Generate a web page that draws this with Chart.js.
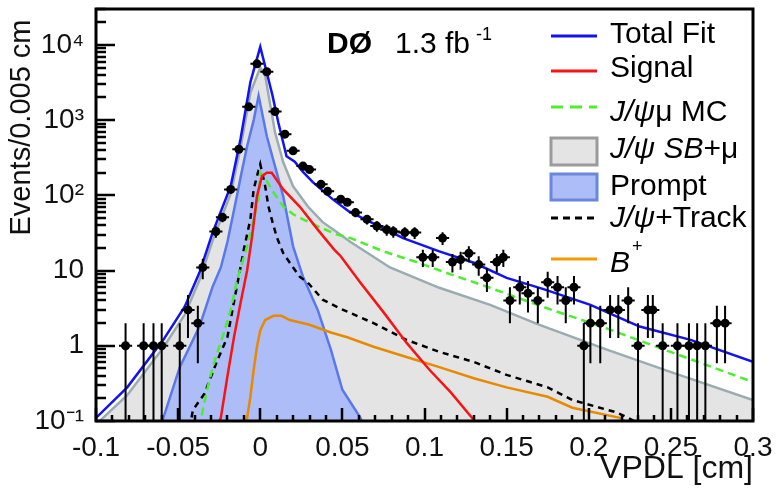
<!DOCTYPE html>
<html>
<head>
<meta charset="utf-8">
<script src="https://cdn.jsdelivr.net/npm/chart.js@4.4.0/dist/chart.umd.min.js"></script>
<style>
  html, body { margin: 0; padding: 0; background: #fff; }
  #wrap { width: 778px; height: 488px; }
</style>
</head>
<body>
<div id="wrap"><canvas id="myChart" width="778" height="488"></canvas></div>
<script>
// VPDL fit components (x in cm, y in events / 0.005 cm)
const fitX = [-0.1, -0.081, -0.059, -0.046, -0.037, -0.029, -0.018, -0.012, -0.006, 0, 0.005, 0.0075, 0.011, 0.016, 0.021, 0.026, 0.032, 0.044, 0.054, 0.087, 0.109, 0.130, 0.150, 0.172, 0.201, 0.231, 0.262, 0.3];
const fitY = [0.11, 0.28, 1.2, 3.3, 9.4, 32, 132, 560, 3200, 9400, 3500, 2100, 930, 330, 280, 205, 150, 89, 61, 27, 18, 12.7, 8, 5.7, 3.5, 1.8, 1.2, 0.61];

const sbX = [-0.1, -0.081, -0.059, -0.046, -0.037, -0.029, -0.018, -0.012, -0.006, 0, 0.003, 0.009, 0.014, 0.020, 0.029, 0.038, 0.047, 0.055, 0.079, 0.109, 0.140, 0.170, 0.211, 0.251, 0.3];
const sbY = [0.09, 0.22, 0.95, 2.6, 7.5, 25, 105, 430, 2300, 5000, 3900, 690, 275, 132, 71, 44, 32, 24, 11, 5.9, 3.5, 1.9, 0.89, 0.44, 0.19];

const promptX = [-0.065, -0.059, -0.049, -0.037, -0.029, -0.024, -0.020, -0.015, -0.011, -0.008, -0.004, -0.001, 0.004, 0.014, 0.020, 0.026, 0.035, 0.043, 0.050, 0.061, 0.066];
const promptY = [0.06, 0.11, 0.52, 1.8, 6.1, 11, 24, 81, 220, 450, 1000, 2100, 610, 97, 21, 8.3, 3.0, 0.89, 0.26, 0.11, 0.06];

const sigX = [-0.027, -0.024, -0.020, -0.016, -0.012, -0.008, -0.005, -0.002, 0.001, 0.004, 0.007, 0.014, 0.024, 0.035, 0.045, 0.049, 0.061, 0.075, 0.089, 0.103, 0.116, 0.129, 0.135];
const sigY = [0.08, 0.11, 0.39, 1.3, 3.7, 10, 28, 97, 180, 200, 200, 120, 71, 35, 19, 15.5, 6.9, 2.8, 1.1, 0.48, 0.24, 0.11, 0.07];

const mcX = [-0.037, -0.035, -0.031, -0.027, -0.023, -0.018, -0.014, -0.008, -0.004, -0.001, 0, 0.004, 0.008, 0.014, 0.020, 0.026, 0.037, 0.047, 0.055, 0.075, 0.095, 0.116, 0.138, 0.172, 0.211, 0.251, 0.3];
const mcY = [0.08, 0.14, 0.35, 0.71, 1.3, 3.0, 7.6, 21, 48, 89, 200, 155, 110, 71, 56, 48, 37, 30, 27, 18, 13, 8.9, 6.1, 3.3, 1.7, 0.81, 0.33];

const trackX = [-0.043, -0.041, -0.034, -0.026, -0.020, -0.015, -0.010, -0.006, -0.004, -0.002, 0, 0.003, 0.005, 0.007, 0.010, 0.014, 0.020, 0.024, 0.029, 0.038, 0.049, 0.069, 0.089, 0.109, 0.130, 0.150, 0.175, 0.190, 0.217, 0.232];
const trackY = [0.08, 0.14, 0.23, 0.65, 1.3, 5, 19, 48, 120, 180, 260, 132, 71, 48, 28, 17, 11, 8.3, 6.9, 4.1, 3.1, 2.0, 1.2, 0.83, 0.61, 0.41, 0.28, 0.19, 0.13, 0.09];

const bplusX = [-0.009, -0.008, -0.006, -0.004, -0.002, 0, 0.003, 0.008, 0.013, 0.018, 0.030, 0.043, 0.053, 0.069, 0.089, 0.109, 0.130, 0.150, 0.175, 0.190, 0.219, 0.225];
const bplusY = [0.08, 0.11, 0.21, 0.48, 0.97, 1.6, 2.2, 2.5, 2.5, 2.2, 1.9, 1.5, 1.3, 0.97, 0.71, 0.52, 0.37, 0.28, 0.21, 0.15, 0.11, 0.09];

// data points (events per bin)
const dataX = [-0.082, -0.071, -0.065, -0.060, -0.049, -0.044, -0.038, -0.035, -0.027, -0.023, -0.018, -0.013, -0.007, -0.002, 0.004, 0.009, 0.015, 0.020, 0.026, 0.030, 0.037, 0.041, 0.049, 0.053, 0.058, 0.065, 0.071, 0.077, 0.081, 0.088, 0.094, 0.099, 0.105, 0.111, 0.117, 0.122, 0.127, 0.133, 0.138, 0.144, 0.148, 0.152, 0.158, 0.163, 0.169, 0.175, 0.181, 0.186, 0.191, 0.197, 0.201, 0.207, 0.213, 0.218, 0.224, 0.230, 0.236, 0.239, 0.245, 0.254, 0.261, 0.266, 0.271, 0.278, 0.283];
const dataY = [1, 1, 1, 1, 1, 3, 2, 11, 33, 51, 120, 410, 1500, 5600, 4400, 1300, 650, 390, 245, 220, 140, 113, 89, 81, 59, 48, 39, 35, 33, 32, 32, 15, 15, 27, 13, 14, 17, 12, 8, 13, 15, 4, 6, 5, 4, 7, 6, 4, 6, 1, 2, 2, 3, 3, 4, 1, 3, 3, 1, 1, 1, 1, 1, 2, 2];

const yDecades = [0.1, 1, 10, 100, 1000, 10000];
const yDecadeLabels = ['10\u207B\u00B9', '1', '10', '10\u00B2', '10\u00B3', '10\u2074'];

const FONT = '"Liberation Sans", Arial, sans-serif';

function pts(xs, ys) {
  return xs.map((x, i) => ({ x: x, y: ys[i] }));
}

function curve(label, xs, ys, color, extra) {
  return Object.assign({
    label: label,
    data: pts(xs, ys),
    showLine: true,
    borderColor: color,
    borderWidth: 2.5,
    pointRadius: 0,
    fill: false,
    tension: 0
  }, extra);
}

const datasets = [
  curve('J/\u03C8 SB+\u03BC', sbX, sbY, '#9aacb2', { fill: 'start', backgroundColor: '#e4e4e4', order: 9 }),
  curve('Prompt', promptX, promptY, '#5a78ee', { fill: 'start', backgroundColor: '#adbdf7', order: 8 }),
  curve('B+', bplusX, bplusY, '#e88a00', { order: 6 }),
  curve('J/\u03C8+Track', trackX, trackY, '#000', { borderDash: [6, 5], order: 5 }),
  curve('J/\u03C8\u03BC MC', mcX, mcY, '#4cee2e', { borderDash: [8, 5], order: 4 }),
  curve('Signal', sigX, sigY, '#f81414', { order: 3 }),
  curve('Total Fit', fitX, fitY, '#1212f2', { order: 2 }),
  {
    label: 'Data',
    data: pts(dataX, dataY),
    showLine: false,
    pointRadius: 4.5,
    pointStyle: 'circle',
    backgroundColor: '#000',
    borderColor: '#000',
    borderWidth: 0,
    order: 1
  }
];

function drawRich(ctx, segs, x, y, size) {
  segs.forEach(s => {
    ctx.font = (s[1] || '') + ' ' + size + 'px ' + FONT;
    ctx.fillText(s[0], x, y);
    x += ctx.measureText(s[0]).width;
  });
  return x;
}

// inward ticks and the frame, placed through the chart's own scales
function drawTicks(chart) {
  const { ctx, chartArea: a } = chart;
  const x = chart.scales.x, y = chart.scales.y;
  ctx.save();
  ctx.setLineDash([]);
  ctx.strokeStyle = '#000';
  ctx.lineWidth = 2.5;
  for (let i = -10; i <= 30; i++) {
    const px = Math.round(x.getPixelForValue(i / 100));
    const len = (Math.abs(i) % 5 === 0) ? 13 : 6;
    ctx.beginPath();
    ctx.moveTo(px, a.bottom);
    ctx.lineTo(px, a.bottom - len);
    ctx.stroke();
  }
  for (let e = -1; e <= 4; e++) {
    for (let m = 1; m <= 9; m++) {
      const v = m * Math.pow(10, e);
      if (v > y.max) break;
      const py = Math.round(y.getPixelForValue(v));
      const len = m === 1 ? 19 : 10;
      ctx.beginPath();
      ctx.moveTo(a.left, py);
      ctx.lineTo(a.left + len, py);
      ctx.stroke();
    }
  }
  ctx.lineWidth = 3;
  ctx.strokeRect(a.left, a.top, a.right - a.left, a.bottom - a.top);
  ctx.restore();
}

const decorations = {
  id: 'decorations',
  afterDatasetsDraw(chart) {
    const { ctx, chartArea: a, scales: { x, y } } = chart;
    ctx.save();
    ctx.strokeStyle = '#000';
    ctx.lineWidth = 2;
    // error bars on data points
    dataX.forEach((xv, i) => {
      const v = dataY[i];
      const e = Math.sqrt(v);
      const px = x.getPixelForValue(xv);
      const py = y.getPixelForValue(v);
      const top = Math.max(a.top, y.getPixelForValue(v + e));
      const bot = v - e > 0 ? Math.min(a.bottom, y.getPixelForValue(v - e)) : a.bottom;
      ctx.beginPath();
      ctx.moveTo(px, top); ctx.lineTo(px, bot);
      ctx.moveTo(x.getPixelForValue(xv - 0.004), py); ctx.lineTo(x.getPixelForValue(xv + 0.004), py);
      ctx.stroke();
    });
    ctx.restore();
  },
  afterDraw(chart) {
    drawTicks(chart);
    const ctx = chart.ctx;
    ctx.save();
    ctx.fillStyle = '#000';
    ctx.textBaseline = 'alphabetic';

    // experiment tag
    ctx.font = 'bold 30px ' + FONT;
    ctx.fillText('D\u00D8', 327, 53);
    ctx.font = '30px ' + FONT;
    ctx.fillText('1.3 fb', 395, 53);
    ctx.font = '18px ' + FONT;
    ctx.fillText('-1', 476, 40);

    // legend
    const lx0 = 551, lx1 = 597, tx = 610;
    function lineSample(yy, color, dash) {
      ctx.save();
      ctx.strokeStyle = color;
      ctx.lineWidth = 3;
      ctx.setLineDash(dash || []);
      ctx.beginPath(); ctx.moveTo(lx0, yy); ctx.lineTo(lx1, yy); ctx.stroke();
      ctx.restore();
    }
    function boxSample(y0, y1, fill, stroke) {
      ctx.save();
      ctx.fillStyle = fill; ctx.strokeStyle = stroke; ctx.lineWidth = 3;
      ctx.fillRect(lx0, y0, lx1 - lx0, y1 - y0);
      ctx.strokeRect(lx0, y0, lx1 - lx0, y1 - y0);
      ctx.restore();
    }
    lineSample(36, '#1212f2');
    drawRich(ctx, [['Total Fit']], tx, 43, 30);
    lineSample(71, '#f81414');
    drawRich(ctx, [['Signal']], tx, 77, 30);
    lineSample(107, '#4cee2e', [12, 7]);
    drawRich(ctx, [['J/\u03C8', 'italic'], ['\u03BC MC']], tx, 121, 30);
    boxSample(138, 165, '#e4e4e4', '#9b9b9b');
    drawRich(ctx, [['J/\u03C8 SB', 'italic'], ['+\u03BC']], tx, 158, 30);
    boxSample(174, 200, '#adbdf7', '#6a86dd');
    drawRich(ctx, [['Prompt']], tx, 195, 30);
    lineSample(218, '#000', [7, 5]);
    drawRich(ctx, [['J/\u03C8', 'italic'], ['+Track']], tx, 227, 30);
    lineSample(259, '#f59a00');
    const bx = drawRich(ctx, [['B', 'italic']], tx, 272, 30);
    ctx.font = '18px ' + FONT;
    ctx.fillText('+', bx + 2, 252);
    ctx.restore();
  }
};

const config = {
  type: 'scatter',
  data: { datasets: datasets },
  options: {
    responsive: false,
    animation: false,
    events: [],
    layout: { padding: { top: 9, right: 25, left: 0, bottom: 0 } },
    plugins: {
      legend: { display: false },
      tooltip: { enabled: false }
    },
    scales: {
      x: {
        type: 'linear',
        min: -0.1,
        max: 0.3,
        border: { display: false },
        grid: { display: false },
        ticks: {
          stepSize: 0.05,
          padding: 2,
          color: '#111',
          font: { family: FONT, size: 28 },
          callback: v => String(+v.toFixed(2))
        },
        title: {
          display: true,
          text: 'VPDL [cm]',
          align: 'end',
          color: '#111',
          font: { family: FONT, size: 32 },
          padding: { top: 0, bottom: 0 }
        },
        afterFit: s => { s.height = 67; }
      },
      y: {
        type: 'logarithmic',
        min: 0.1,
        max: 30000,
        border: { display: false },
        grid: { display: false },
        ticks: {
          autoSkip: false,
          padding: 4,
          color: '#111',
          font: { family: FONT, size: 28 },
          callback: v => {
            const k = yDecades.findIndex(d => Math.abs(d - v) / d < 1e-6);
            return k < 0 ? null : yDecadeLabels[k];
          }
        },
        title: {
          display: true,
          text: 'Events/0.005 cm \u200A',
          align: 'end',
          color: '#111',
          font: { family: FONT, size: 29 },
          padding: { top: 5, bottom: 0 }
        },
        afterFit: s => { s.width = 96; s.paddingTop = 0; s.paddingBottom = 0; }
      }
    }
  },
  plugins: [decorations]
};

const myChart = new Chart(document.getElementById('myChart'), config);
</script>
</body>
</html>
